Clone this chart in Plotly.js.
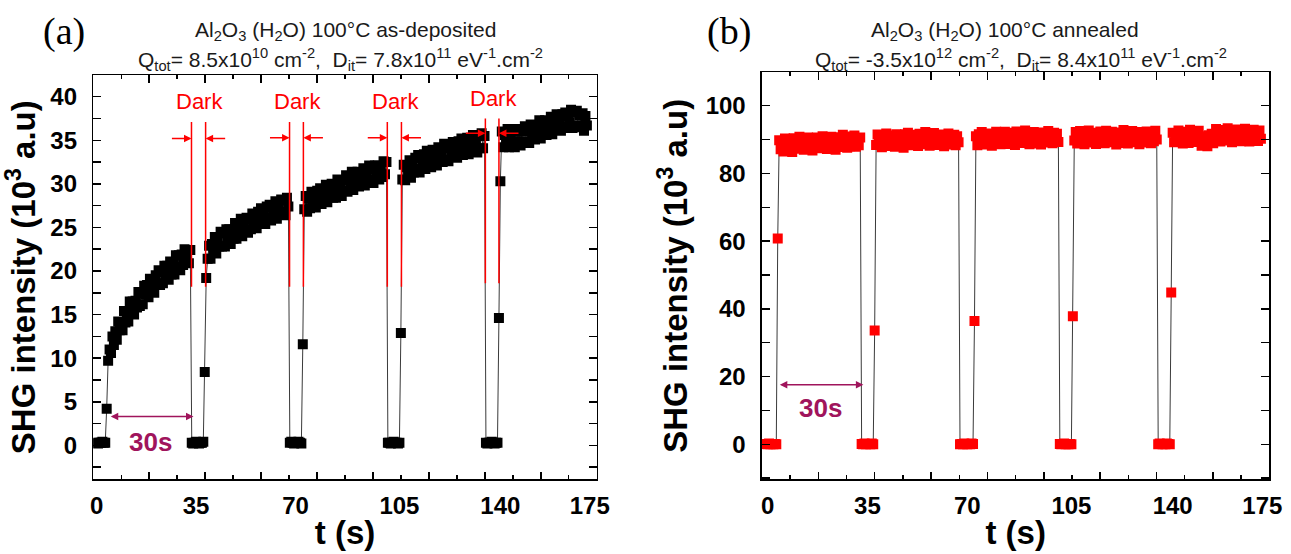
<!DOCTYPE html>
<html><head><meta charset="utf-8">
<script src="https://cdn.plot.ly/plotly-3.0.1.min.js"></script>
<style>html,body{margin:0;padding:0;background:#fff}#chart{width:1291px;height:554px}</style>
</head><body><div id="chart"></div>
<script>
// ---------- data: time step and series ----------
const dtA = 0.5, t0A = 0;
const dtB = 0.5, t0B = -0.5;

// panel (a): as-deposited, SHG intensity (10^3 a.u.)
const darkA0 = [0.3,0.2,0.3,0.3,0.4,0.3,0.3];
const riseA0 = [4.2];
const segA1 = [9.7,11.0,10.6,12.5,11.5,13.1,12.1,14.2,13.2,14.1,13.2,15.4,14.1,15.2,14.2,16.5,15.4,16.5,15.0,16.6,15.8,17.6,16.0,17.4,16.2,18.3,17.3,18.4,17.0,19.1,17.7,18.6,17.5,19.5,18.5,20.1,18.4,19.9,18.6,20.6,19.6,20.6,19.0,21.1,19.6,20.7,19.6,21.8,20.5,21.8,20.1,21.9,20.7,22.5,21.3,22.4,20.9,22.4];
const darkA1 = [0.3,0.2,0.3,0.4,0.3,0.2,0.3,0.3,0.4];
const riseA1 = [8.4,19.2];
const segA2 = [21.4,22.9,21.4,23.1,22.1,23.9,22.0,23.5,22.8,24.5,22.8,24.3,22.8,24.8,23.7,24.8,23.1,24.7,23.7,25.5,23.7,24.9,24.3,26.0,24.0,25.7,24.7,26.1,24.4,25.9,24.8,26.6,25.5,26.4,24.9,26.8,25.5,27.2,25.4,26.6,25.4,27.4,26.1,27.6,25.8,27.3,26.2,28.0,26.0,27.5,26.8,28.2,26.5,28.1,26.4,28.4,27.4];
const darkA2 = [0.3,0.4,0.3,0.2,0.3,0.3,0.4,0.3,0.2];
const riseA2 = [11.6];
const segA3 = [27.1,28.6,26.8,28.3,27.2,29.1,27.8,28.8,27.3,29.2,27.8,29.5,27.7,28.8,28.2,29.9,27.9,29.4,28.6,30.0,28.4,29.6,28.4,30.5,29.4,30.3,28.6,30.4,29.2,31.0,29.1,30.5,29.7,31.4,29.3,31.1,30.2,31.4,29.7,31.2,30.1,31.8,29.8,31.2,30.5,32.1,30.2,31.7,30.1,32.1,30.8,32.1,30.5,31.9,30.8,32.6,31.1,32.5];
const darkA3 = [0.3,0.3,0.2,0.3,0.4,0.3,0.3,0.2,0.3];
const riseA3 = [12.9];
const segA4 = [30.5,32.2,30.4,31.9,31.1,32.7,30.7,32.2,31.3,33.0,31.7,33.3,31.3,33.0,32.2,33.4,31.7,33.8,32.2,33.3,31.9,33.9,32.7,33.8,32.1,34.2,32.8,33.6,32.5,34.6,32.8,34.1,32.6,34.5,33.5,34.8,33.1,34.5,33.0,34.9,33.6,35.2,33.3,34.6,33.7,35.3,33.4,35.1,34.0,35.6,33.7,35.1,33.6,35.6,34.1,35.8,34.1,35.5];
const darkA4 = [0.3,0.2,0.3,0.3,0.4,0.3,0.2,0.3,0.3];
const riseA4 = [14.6,30.3];
const segA5 = [36.0,34.2,35.6,34.6,36.3,34.2,35.6,34.8,36.3,34.2,36.0,34.9,36.3,34.4,36.0,34.7,36.6,34.8,36.0,34.7,36.8,35.6,36.7,35.1,36.6,35.5,37.3,35.2,37.0,36.0,37.3,35.6,36.9,35.9,37.7,35.7,37.4,36.4,38.0,36.2,37.4,36.1,38.0,36.6,38.2,36.4,37.8,37.0,38.5,36.4,38.2,36.7,38.4,36.5,37.9,36.7,38.1,36.1,37.8,36.7];

// panel (b): annealed
const darkB0 = [0.1,0.0,0.2,0.0,0.1,0.0,0.1,0.0];
const riseB0 = [60.8];
const segB1 = [89.8,87.1,88.7,86.5,90.3,87.7,89.4,86.8,89.1,86.3,90.4,88.4,89.6,87.3,90.8,87.7,88.9,87.0,90.0,87.9,90.6,87.4,89.2,86.8,89.7,88.6,90.6,87.4,89.7,87.9,91.0,88.3,90.2,87.2,89.3,87.8,90.8,88.5,90.0,87.0,90.7,88.4,89.9,87.8,91.4,89.1,90.4,87.6,90.1,88.0,90.9,88.7,91.2,87.9,89.7,88.3,90.6];
const darkB1 = [0.1,0.0,0.2,0.0,0.1,0.1,0.0,0.2,0.0];
const riseB1 = [33.6];
const segB2 = [88.4,91.5,89.2,90.9,87.7,90.4,88.7,91.8,88.1,90.0,91.2,88.6,90.6,87.9,91.6,89.3,91.0,88.2,90.3,87.6,91.6,89.2,92.0,88.8,90.4,88.3,91.4,89.7,91.1,88.1,91.7,89.1,90.8,88.6,92.2,89.4,91.0,88.2,90.5,88.9,91.9,88.7,90.2,88.4,91.5,89.3,91.2,88.0,90.9,89.5,91.8,88.5,90.6,89.0,91.4,88.3,91.0,89.2];
const darkB2 = [0.0,0.1,0.0,0.2,0.1,0.0,0.1,0.0,0.2,0.1];
const riseB2 = [36.4];
const segB3 = [91.0,88.3,91.6,89.6,92.2,88.9,90.5,88.5,91.8,89.3,91.3,88.2,90.7,89.0,92.3,89.8,91.5,88.6,90.9,89.2,92.3,89.1,90.7,88.7,92.0,89.8,91.5,88.4,92.4,90.0,91.7,89.0,91.1,89.4,92.7,89.7,91.9,88.6,90.9,89.2,92.2,89.9,91.6,88.8,91.4,88.5,92.1,90.2,91.8,89.1,92.5,89.5,91.0,88.9,92.0,89.6,91.7,89.3];
const darkB3 = [0.1,0.0,0.1,0.2,0.0,0.1,0.0,0.1,0.0];
const riseB3 = [37.8];
const segB4 = [89.7,92.2,88.8,91.1,92.5,89.4,91.4,88.6,91.9,90.2,92.7,89.1,91.2,89.6,92.0,88.7,91.6,90.0,92.4,89.3,90.9,88.9,92.6,89.8,91.7,89.2,92.3,90.4,91.5,88.5,92.1,89.5,91.3,89.0,92.8,90.1,91.8,88.8,91.0,89.6,92.5,89.2,91.4,89.9,92.2,88.6,91.6,89.4,91.2,89.1,92.4,89.7,91.9,88.9,91.1,89.5,92.6,90.0];
const darkB4 = [0.0,0.2,0.1,0.0,0.1,0.0,0.2,0.1,0.0];
const riseB4 = [44.8];
const segB5 = [92.0,89.2,91.2,89.8,92.7,89.5,91.5,88.8,92.3,90.3,91.8,89.0,92.9,90.0,91.4,89.3,92.1,89.7,92.6,90.5,88.2,91.0,88.7,90.6,88.0,91.3,89.4,91.7,88.9,90.5,93.1,90.2,92.2,89.4,92.8,90.5,91.9,89.7,93.3,90.1,92.5,89.2,91.7,90.3,93.0,89.8,92.1,89.5,92.6,90.7,93.2,89.9,92.0,89.4,92.4,90.4,92.9,90.0,91.6,89.6,92.7,90.2];

// annotation values for panel (a) (dark intervals, in t units / 10^3 a.u.)
const darkStartA = [32.9, 66.9, 100.8, 134.8];
const darkEndA   = [37.8, 71.7, 105.7, 139.5];
const darkLabelX = [35.7, 69.7, 103.7, 137.6];
const darkLabelY = [39.4, 39.5, 39.5, 39.8];
const darkArrowY = [35.2, 35.3, 35.3, 35.8];
const redLineTop = [37.1, 37.1, 37.1, 37.5];
const redLineBot = [18.2, 18.2, 18.2, 18.6];
const spanA = {from: 4.4, to: 33.6, y: 3.3, labelX: 18.7, labelY: 0.4};
const spanB = {from: 3.7, to: 33.1, y: 17.6, labelX: 18.3, labelY: 10.7};

// tick labels
const tickText = ['0','35','70','105','140','175'];
const tickPos  = [0, 34.5, 69, 105, 140, 171];

const seriesA = [].concat(darkA0, riseA0, segA1, darkA1, riseA1, segA2, darkA2, riseA2, segA3, darkA3, riseA3, segA4, darkA4, riseA4, segA5);
const seriesB = [].concat(darkB0, riseB0, segB1, darkB1, riseB1, segB2, darkB2, riseB2, segB3, darkB3, riseB3, segB4, darkB4, riseB4, segB5);

// ---------- styling ----------
const SANS = 'Liberation Sans, Arial, Helvetica, sans-serif';
const SERIF = 'Liberation Serif, Times New Roman, serif';
const PURPLE = '#a0145c';
const RED = '#ff0000';
const tickFont = {family: SANS, size: 24, color: '#000', weight: 'bold'};
const axTitleFont = {family: SANS, size: 33, color: '#000', weight: 'bold'};

const traces = [
  {x0: t0A, dx: dtA, y: seriesA, xaxis: 'x', yaxis: 'y', type: 'scatter', mode: 'lines+markers',
   line: {color: '#3a3a3a', width: 1}, marker: {symbol: 'square', size: 10, color: '#000', line: {width: 0}},
   hoverinfo: 'skip'},
  {x0: t0B, dx: dtB, y: seriesB, xaxis: 'x2', yaxis: 'y2', type: 'scatter', mode: 'lines+markers',
   line: {color: '#3a3a3a', width: 1}, marker: {symbol: 'square', size: 10, color: RED, line: {width: 0}},
   hoverinfo: 'skip'},
  {x: [], y: [], xaxis: 'x3', yaxis: 'y', type: 'scatter', mode: 'markers', hoverinfo: 'skip'},
  {x: [], y: [], xaxis: 'x4', yaxis: 'y2', type: 'scatter', mode: 'markers', hoverinfo: 'skip'}
];

function labelAxis(domain, anchor, range) {
  return {domain: domain, anchor: anchor, range: range, tickvals: tickPos, ticktext: tickText,
    ticks: '', showline: false, showgrid: false, zeroline: false, tickfont: tickFont,
    ticklabelstandoff: 10, automargin: false,
    title: {text: 't (s)', font: axTitleFont, standoff: 2}};
}
function tickAxis(over, anchor) {
  return {overlaying: over, anchor: anchor, side: 'bottom', range: [0, 9], dtick: 1, tick0: 0,
    ticks: 'inside', ticklen: 7.5, tickwidth: 1.5, tickcolor: '#000', showticklabels: false,
    showline: true, linewidth: 1.5, linecolor: '#000', mirror: 'allticks', showgrid: false, zeroline: false,
    minor: {dtick: 0.5, ticks: 'inside', ticklen: 4, tickwidth: 1.5, tickcolor: '#000', showgrid: false}};
}
function valueAxis(domain, anchor, range, dtick) {
  return {domain: domain, anchor: anchor, range: range, dtick: dtick, tick0: 0,
    ticks: 'inside', ticklen: 8, tickwidth: 1.5, tickcolor: '#000',
    minor: {dtick: dtick / 2, ticks: 'inside', ticklen: 4, tickwidth: 1.5, tickcolor: '#000', showgrid: false},
    showline: true, linewidth: 1.5, linecolor: '#000', mirror: 'allticks', showgrid: false, zeroline: false,
    tickfont: tickFont, ticklabelstandoff: 10, automargin: false,
    title: {text: 'SHG intensity (10<sup>3</sup> a.u)', font: axTitleFont, standoff: 8}};
}

const annotations = [];
const shapes = [];
function txt(x, y, text, size, color, family, weight, xref, yref) {
  annotations.push({x: x, y: y, xref: xref || 'paper', yref: yref || 'paper', text: text, showarrow: false,
    xanchor: 'center', yanchor: 'middle', font: {family: family || SANS, size: size, color: color || '#1a1a1a', weight: weight || 'normal'}});
}
// panel titles
txt(0.2678, 0.9440, 'Al<sub>2</sub>O<sub>3</sub> (H<sub>2</sub>O) 100°C as-deposited', 21);
txt(0.2634, 0.8920, 'Q<sub>tot</sub>= 8.5x10<sup>10</sup> cm<sup>-2</sup>,&nbsp; D<sub>it</sub>= 7.8x10<sup>11</sup> eV<sup>-1</sup>.cm<sup>-2</sup>', 21);
txt(0.7785, 0.9440, 'Al<sub>2</sub>O<sub>3</sub> (H<sub>2</sub>O) 100°C annealed', 21);
txt(0.7906, 0.8920, 'Q<sub>tot</sub>= -3.5x10<sup>12</sup> cm<sup>-2</sup>,&nbsp; D<sub>it</sub>= 8.4x10<sup>11</sup> eV<sup>-1</sup>.cm<sup>-2</sup>', 21);
txt(0.0496, 0.9430, '(a)', 38, '#000', SERIF);
txt(0.5647, 0.9430, '(b)', 38, '#000', SERIF);

// dark markers in (a)
for (let i = 0; i < darkStartA.length; i++) {
  shapes.push({type: 'line', xref: 'x', yref: 'y', x0: darkStartA[i], x1: darkStartA[i], y0: redLineBot[i], y1: redLineTop[i], line: {color: RED, width: 1.5}});
  shapes.push({type: 'line', xref: 'x', yref: 'y', x0: darkEndA[i], x1: darkEndA[i], y0: redLineBot[i], y1: redLineTop[i], line: {color: RED, width: 1.5}});
  annotations.push({xref: 'x', yref: 'y', axref: 'x', ayref: 'y', x: darkStartA[i], y: darkArrowY[i],
    ax: darkStartA[i] - 7.3, ay: darkArrowY[i], text: '', showarrow: true, arrowhead: 2, arrowsize: 1, arrowwidth: 1.5, arrowcolor: RED, standoff: 0});
  annotations.push({xref: 'x', yref: 'y', axref: 'x', ayref: 'y', x: darkEndA[i], y: darkArrowY[i],
    ax: darkEndA[i] + 7.3, ay: darkArrowY[i], text: '', showarrow: true, arrowhead: 2, arrowsize: 1, arrowwidth: 1.5, arrowcolor: RED, standoff: 0});
  txt(darkLabelX[i], darkLabelY[i], 'Dark', 22, RED, SANS, 'normal', 'x', 'y');
}
// 30 s spans
[[spanA, 'x', 'y'], [spanB, 'x2', 'y2']].forEach(function (s) {
  const sp = s[0];
  annotations.push({xref: s[1], yref: s[2], axref: s[1], ayref: s[2], x: sp.to, y: sp.y, ax: sp.from, ay: sp.y,
    text: '', showarrow: true, arrowside: 'end+start', arrowhead: 2, arrowsize: 1, arrowwidth: 1.5, arrowcolor: PURPLE, standoff: 0, startstandoff: 0});
  txt(sp.labelX, sp.labelY, '30s', 26, PURPLE, SANS, 'bold', s[1], s[2]);
});

const layout = {
  width: 1291, height: 554, margin: {l: 0, r: 0, t: 0, b: 0},
  paper_bgcolor: '#fff', plot_bgcolor: '#fff', showlegend: false,
  font: {family: SANS, color: '#000'},
  xaxis: labelAxis([0.07227, 0.46220], 'y', [-1.14, 173.4]),
  yaxis: valueAxis([0.13448, 0.86462], 'x', [-3.92, 42.49], 5),
  xaxis2: labelAxis([0.59024, 0.98319], 'y2', [-1.94, 173.4]),
  yaxis2: valueAxis([0.13484, 0.86949], 'x2', [-10.34, 109.86], 20),
  xaxis3: tickAxis('x', 'y'),
  xaxis4: tickAxis('x2', 'y2'),
  annotations: annotations,
  shapes: shapes
};

Plotly.newPlot('chart', traces, layout, {staticPlot: true, displayModeBar: false});
</script>
</body></html>
